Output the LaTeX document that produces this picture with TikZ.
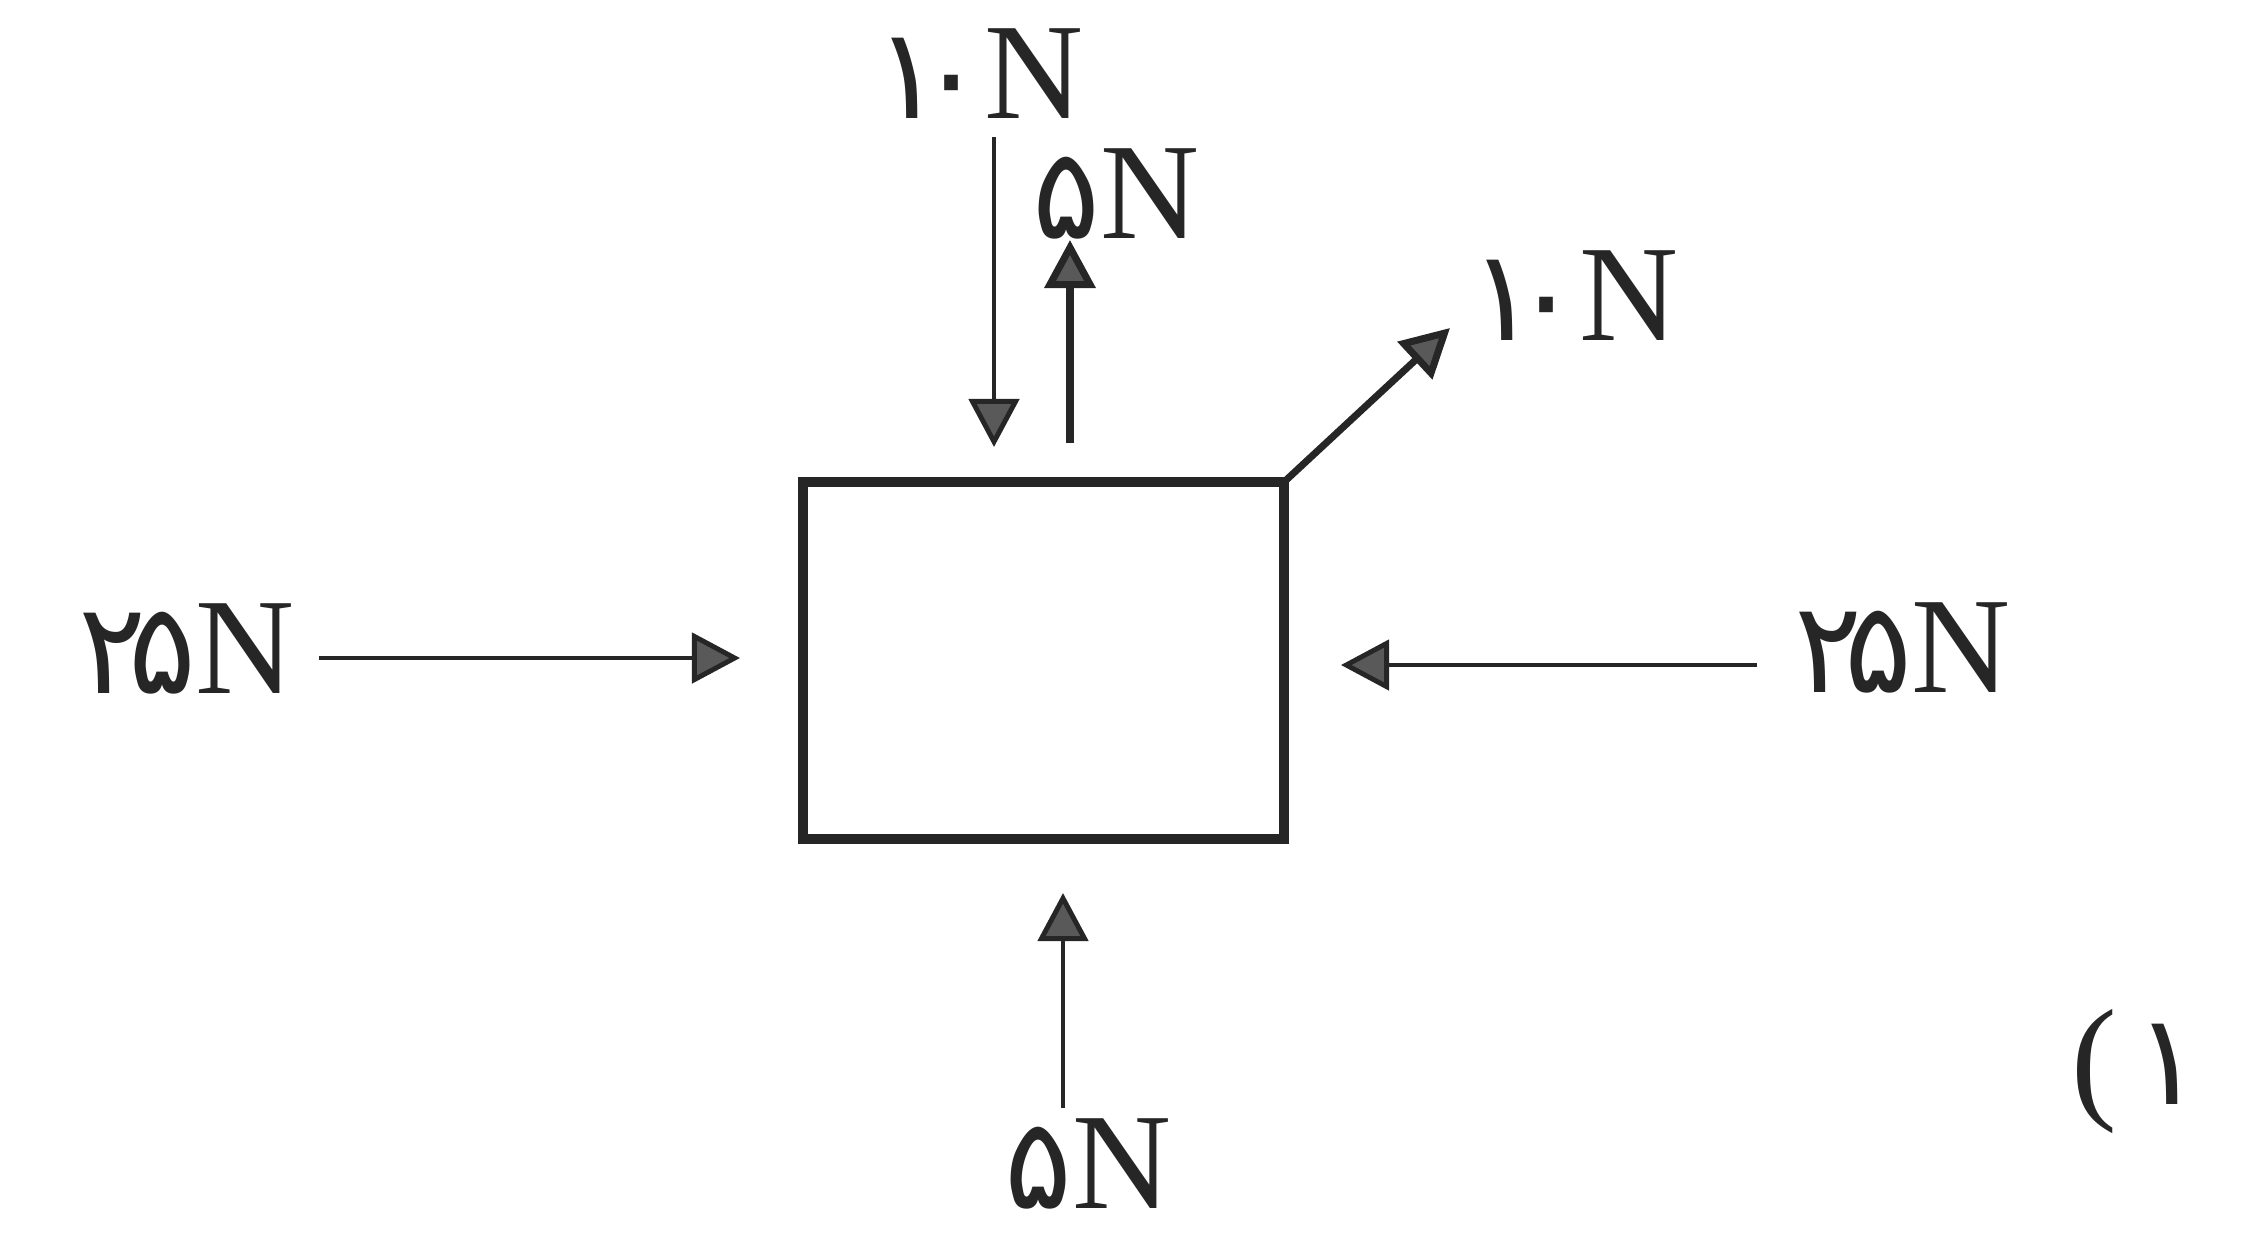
\documentclass[tikz,border=0pt]{standalone}
\usepackage{fontspec}
\setmainfont{Liberation Serif}
\newfontfamily\pd{DejaVu Sans}
\usetikzlibrary{arrows.meta}
\tikzset{
  force/.style={line width=1.4pt, draw=black!85,
    -{Triangle[length=4.8mm,width=5mm,fill=black!65]}},
  forcebold/.style={force, line width=2pt},
  lbl/.style={inner sep=0pt, outer sep=0pt, anchor=base east, text=black!85,
    font=\fontsize{39}{45}\selectfont},
  body/.style={draw=black!85, line width=2.8pt, inner sep=0pt, outer sep=0pt,
    minimum width=4.81cm, minimum height=3.57cm}
}
\newcommand{\dg}[1]{{\pd\fontsize{36}{45}\selectfont #1}}
\begin{document}
\begin{tikzpicture}[x=0.01cm, y=-0.01cm]
\useasboundingbox (0,0) rectangle (2256,1232);
% body
\node[body] (box) at (1043.5,660.5) {};
% labels
\node[lbl] (ltop) at (1084,118) {\dg{۱\kern-0.2em۰}N};
\node[lbl] (lup) at (1200,238) {\dg{۵}N};
\node[lbl] (ldiag) at (1679,340) {\dg{۱\kern-0.2em۰}N};
\node[lbl] (lleft) at (295,693) {\dg{۲\kern-0.15em۵}N};
\node[lbl] (lright) at (2011,692) {\dg{۲\kern-0.15em۵}N};
\node[lbl] (lbot) at (1172,1208) {\dg{۵}N};
\node[lbl] (lnum) at (2202,1104) {(\kern0.12em\dg{۱}};
% arrow ends
\coordinate (dS) at (994,137);
\coordinate (dE) at (994,447);
\coordinate (uS) at (1070,443);
\coordinate (uE) at (1070,240);
\coordinate (gE) at (1450,328);
\coordinate (lS) at (319,658);
\coordinate (lE) at (740,658);
\coordinate (rS) at (1757,665);
\coordinate (rE) at (1341,665);
\coordinate (bS) at (1063,1108);
\coordinate (bE) at (1063,893);
% forces
\draw[force] (dS) -- (dE);
\draw[forcebold] (uS) -- (uE);
\draw[forcebold] (box.north east) -- (gE);
\draw[force] (lS) -- (lE);
\draw[force] (rS) -- (rE);
\draw[force] (bS) -- (bE);
\end{tikzpicture}
\end{document}
